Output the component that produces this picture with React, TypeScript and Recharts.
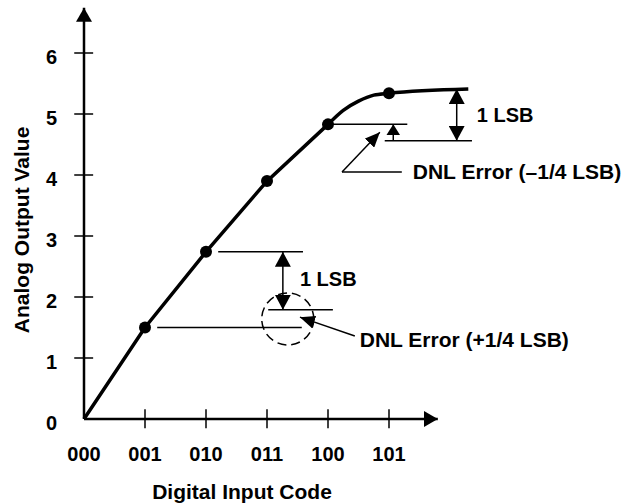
import React from "react";
import { ComposedChart, Line, Scatter, XAxis, YAxis, ReferenceLine, ReferenceDot } from "recharts";

const FONT = '"Liberation Sans", Arial, Helvetica, sans-serif';

const codeLabels = ["000", "001", "010", "011", "100", "101"];
const codeTicks = [0, 1, 2, 3, 4, 5];
const valueTicks = [0, 1, 2, 3, 4, 5, 6];

// transfer curve: straight up to 100, then it bends over
const straightPart = [
  { x: 0, y: 0 },
  { x: 1, y: 1.5 },
  { x: 2, y: 2.74 },
  { x: 3, y: 3.9 },
  { x: 4, y: 4.83 },
];
const bendPart = [
  { x: 4, y: 4.83 },
  { x: 4.25, y: 5.06 },
  { x: 4.5, y: 5.21 },
  { x: 4.75, y: 5.31 },
  { x: 5, y: 5.34 },
  { x: 6.3, y: 5.41 },
];
const codePoints = [...straightPart.slice(1), bendPart[4]];

// thin guide lines (data units)
const guides = [
  { x1: 1.2, y1: 1.5, x2: 3.57, y2: 1.5 },
  { x1: 2.2, y1: 2.74, x2: 3.59, y2: 2.74 },
  { x1: 3.02, y1: 1.79, x2: 4.08, y2: 1.79 },
  { x1: 4.08, y1: 4.83, x2: 5.3, y2: 4.83 },
  { x1: 4.93, y1: 4.56, x2: 6.36, y2: 4.56 },
  { x1: 4.23, y1: 4.05, x2: 5.21, y2: 4.05 },
];

// arrows: from (x1,y1) to tip (x2,y2)
const lsbArrows = [
  { x1: 3.26, y1: 2.74, x2: 3.26, y2: 1.79 },
  { x1: 6.11, y1: 5.41, x2: 6.11, y2: 4.56 },
];
const errorArrows = [{ x1: 5.07, y1: 4.56, x2: 5.07, y2: 4.83 }];
const pointers = [
  { x1: 4.44, y1: 1.36, x2: 3.54, y2: 1.67 },
  { x1: 4.23, y1: 4.05, x2: 4.85, y2: 4.7 },
];

const notes = [
  { x: 3.54, y: 2.29, text: "1 LSB", size: 20 },
  { x: 4.52, y: 1.3, text: "DNL Error (+1/4 LSB)", size: 21 },
  { x: 6.44, y: 4.98, text: "1 LSB", size: 20 },
  { x: 5.39, y: 4.05, text: "DNL Error (\u20131/4 LSB)", size: 21 },
];

const lineShape = (w: number, start?: string, end?: string, dash?: string) => (p: any) => (
  <line
    x1={p.x1}
    y1={p.y1}
    x2={p.x2}
    y2={p.y2}
    stroke="#000"
    strokeWidth={w}
    strokeDasharray={dash}
    markerStart={start}
    markerEnd={end}
  />
);

const XTick = (p: any) => (
  <text x={p.x} y={p.y} dy="0.71em" textAnchor="middle" fill="#000" fontSize={20} fontWeight={700} fontFamily={FONT}>
    {codeLabels[p.payload.value]}
  </text>
);

const YTick = (p: any) => (
  <text x={p.x} y={p.y + 4} dy="0.36em" textAnchor="end" fill="#000" fontSize={20} fontWeight={700} fontFamily={FONT}>
    {p.payload.value}
  </text>
);

function Head({ id, len, wide }: { id: string; len: number; wide: number }) {
  return (
    <marker
      id={id}
      viewBox={`0 0 ${len} ${wide}`}
      refX={len}
      refY={wide / 2}
      markerWidth={len}
      markerHeight={wide}
      markerUnits="userSpaceOnUse"
      orient="auto-start-reverse"
    >
      <path d={`M0,0 L${len},${wide / 2} L0,${wide} Z`} fill="#000" />
    </marker>
  );
}

export default function App() {
  const labelStyle = { fill: "#000", fontWeight: 700, fontFamily: FONT };
  return (
    <div style={{ position: "absolute", left: 0, top: 0, width: 630, height: 503, background: "#fff" }}>
      <svg width={0} height={0} style={{ position: "absolute" }}>
        <defs>
          <Head id="axisHead" len={14} wide={16} />
          <Head id="lsbHead" len={15} wide={16} />
          <Head id="smallHead" len={11} wide={14} />
          <Head id="ptrHead" len={15} wide={13} />
        </defs>
      </svg>
      <ComposedChart width={630} height={503} margin={{ top: 4.2, right: 149.5, bottom: 0, left: 0 }}>
        <XAxis
          type="number"
          dataKey="x"
          domain={[0, 6.5]}
          ticks={codeTicks}
          interval={0}
          axisLine={false}
          tickLine={false}
          tickSize={0}
          tickMargin={28}
          height={84}
          tick={XTick}
        />
        <YAxis
          type="number"
          domain={[0, 6.8]}
          ticks={valueTicks}
          interval={0}
          axisLine={false}
          tickLine={false}
          tickSize={0}
          tickMargin={27}
          width={84}
          tick={YTick}
        />

        {/* axes with arrow tips */}
        <ReferenceLine
          segment={[{ x: 0, y: 0 }, { x: 5.8, y: 0 }]}
          ifOverflow="visible"
          shape={lineShape(2.5, undefined, "url(#axisHead)")}
        />
        <ReferenceLine
          segment={[{ x: 0, y: 0 }, { x: 0, y: 6.74 }]}
          ifOverflow="visible"
          shape={lineShape(2.5, undefined, "url(#axisHead)")}
        />
        {codeTicks.slice(1).map((t) => (
          <ReferenceLine
            key={"xt" + t}
            segment={[{ x: t, y: -0.15 }, { x: t, y: 0.16 }]}
            ifOverflow="visible"
            shape={lineShape(1.5)}
          />
        ))}
        {valueTicks.slice(1).map((t) => (
          <ReferenceLine
            key={"yt" + t}
            segment={[{ x: -0.16, y: t }, { x: 0.15, y: t }]}
            ifOverflow="visible"
            shape={lineShape(1.5)}
          />
        ))}

        {guides.map((g, i) => (
          <ReferenceLine
            key={"g" + i}
            segment={[{ x: g.x1, y: g.y1 }, { x: g.x2, y: g.y2 }]}
            ifOverflow="visible"
            shape={lineShape(1.5)}
          />
        ))}
        {lsbArrows.map((a, i) => (
          <ReferenceLine
            key={"l" + i}
            segment={[{ x: a.x1, y: a.y1 }, { x: a.x2, y: a.y2 }]}
            ifOverflow="visible"
            shape={lineShape(1.5, "url(#lsbHead)", "url(#lsbHead)")}
          />
        ))}
        {errorArrows.map((a, i) => (
          <ReferenceLine
            key={"e" + i}
            segment={[{ x: a.x1, y: a.y1 }, { x: a.x2, y: a.y2 }]}
            ifOverflow="visible"
            shape={lineShape(1.5, undefined, "url(#smallHead)")}
          />
        ))}
        {pointers.map((a, i) => (
          <ReferenceLine
            key={"p" + i}
            segment={[{ x: a.x1, y: a.y1 }, { x: a.x2, y: a.y2 }]}
            ifOverflow="visible"
            shape={lineShape(1.5, undefined, "url(#ptrHead)")}
          />
        ))}

        <ReferenceDot
          x={3.34}
          y={1.64}
          r={26}
          fill="none"
          stroke="#000"
          strokeWidth={1.5}
          strokeDasharray="9 5"
          ifOverflow="visible"
        />

        <Line data={straightPart} dataKey="y" type="linear" stroke="#000" strokeWidth={3.5} dot={false} isAnimationActive={false} />
        <Line data={bendPart} dataKey="y" type="monotone" stroke="#000" strokeWidth={3.5} dot={false} isAnimationActive={false} />
        <Scatter
          data={codePoints}
          dataKey="y"
          isAnimationActive={false}
          shape={(p: any) => <circle cx={p.cx} cy={p.cy} r={6} fill="#000" />}
        />

        {notes.map((n, i) => (
          <ReferenceDot
            key={"n" + i}
            x={n.x}
            y={n.y}
            r={0}
            fill="none"
            stroke="none"
            ifOverflow="visible"
            label={{ value: n.text, position: "right", offset: 0, fontSize: n.size, ...labelStyle }}
          />
        ))}

        <ReferenceDot
          x={2.59}
          y={-1.19}
          r={0}
          fill="none"
          stroke="none"
          ifOverflow="visible"
          label={{ value: "Digital Input Code", position: "center", fontSize: 21, ...labelStyle }}
        />
        <ReferenceDot
          x={-1.03}
          y={3.1}
          r={0}
          fill="none"
          stroke="none"
          ifOverflow="visible"
          label={{ value: "Analog Output Value", position: "center", angle: -90, fontSize: 21, ...labelStyle }}
        />
      </ComposedChart>
    </div>
  );
}
